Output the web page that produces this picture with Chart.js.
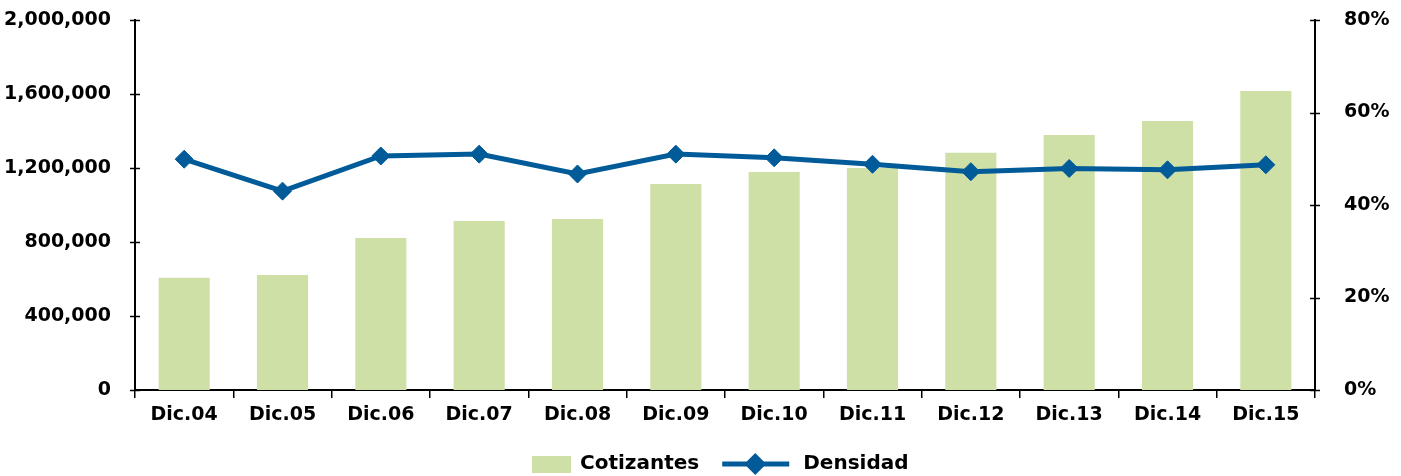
<!DOCTYPE html>
<html>
<head>
<meta charset="utf-8">
<script src="https://cdn.jsdelivr.net/npm/chart.js@4"></script>
<style>
  html, body { margin: 0; padding: 0; background: #fff; }
  #wrap { width: 1401px; height: 476px; }
</style>
</head>
<body>
<div id="wrap"><canvas id="chart" width="1401" height="476"></canvas></div>
<script>
// Cotizantes y densidad
const categorias = ['Dic.04', 'Dic.05', 'Dic.06', 'Dic.07', 'Dic.08', 'Dic.09', 'Dic.10', 'Dic.11', 'Dic.12', 'Dic.13', 'Dic.14', 'Dic.15'];
const cotizantes = [607000, 622000, 822000, 913000, 924000, 1113000, 1178000, 1200000, 1283000, 1378000, 1454000, 1616000];
const densidad = [49.9, 43.0, 50.6, 51.0, 46.7, 51.0, 50.2, 48.8, 47.2, 47.9, 47.6, 48.7];

const FONT = { family: '"DejaVu Sans", sans-serif', size: 19, weight: 'bold' };
const VERDE = '#cfe0a7';
const AZUL = '#005b98';

// Ticks cortos que cruzan los ejes verticales
const ejeTicks = {
    id: 'ejeTicks',
    afterDraw(chart) {
        const ctx = chart.ctx;
        ctx.save();
        ctx.strokeStyle = '#000';
        ctx.lineWidth = 1.5;
        for (const id of ['y', 'y1']) {
            const sc = chart.scales[id];
            const x = id === 'y' ? sc.right : sc.left;
            sc.ticks.forEach((t, i) => {
                const y = Math.round(sc.getPixelForTick(i)) + 0.5;
                ctx.beginPath();
                ctx.moveTo(x - 5, y);
                ctx.lineTo(x + 5, y);
                ctx.stroke();
            });
        }
        ctx.restore();
    }
};

// Leyenda dibujada a mano (caja + linea con rombo)
const leyenda = {
    id: 'leyenda',
    afterDraw(chart) {
        const ctx = chart.ctx;
        ctx.save();
        ctx.font = `${FONT.weight} 20px ${FONT.family}`;
        ctx.textBaseline = 'middle';
        const y = 464;
        const w1 = ctx.measureText('Cotizantes').width;
        let x = 532;

        ctx.fillStyle = VERDE;
        ctx.fillRect(x, y - 8, 39, 17);
        x += 48;
        ctx.fillStyle = '#000';
        ctx.fillText('Cotizantes', x, y);
        x += w1 + 23;

        ctx.strokeStyle = AZUL;
        ctx.lineWidth = 5;
        ctx.beginPath();
        ctx.moveTo(x, y);
        ctx.lineTo(x + 67, y);
        ctx.stroke();
        const cx = x + 33, r = 11;
        ctx.fillStyle = AZUL;
        ctx.beginPath();
        ctx.moveTo(cx, y - r);
        ctx.lineTo(cx + r, y);
        ctx.lineTo(cx, y + r);
        ctx.lineTo(cx - r, y);
        ctx.closePath();
        ctx.fill();
        x += 67 + 14;
        ctx.fillStyle = '#000';
        ctx.fillText('Densidad', x, y);
        ctx.restore();
    }
};

function fijarAncho(ancho) {
    return sc => {
        sc.width = ancho;
        sc.paddingTop = 0;
        sc.paddingBottom = 0;
    };
}

new Chart(document.getElementById('chart'), {
    data: {
        labels: categorias,
        datasets: [
            {
                type: 'line',
                label: 'Densidad',
                data: densidad,
                yAxisID: 'y1',
                borderColor: AZUL,
                backgroundColor: AZUL,
                borderWidth: 5,
                pointStyle: 'rectRot',
                pointRadius: 9,
                pointBorderWidth: 1,
                tension: 0,
                order: 0
            },
            {
                type: 'bar',
                label: 'Cotizantes',
                data: cotizantes,
                yAxisID: 'y',
                backgroundColor: VERDE,
                borderWidth: 0,
                categoryPercentage: 1,
                barPercentage: 0.52,
                order: 1
            }
        ]
    },
    options: {
        responsive: false,
        animation: false,
        layout: { padding: { top: 20, bottom: 46, left: 0, right: 0 } },
        plugins: {
            legend: { display: false },
            tooltip: { enabled: false }
        },
        scales: {
            x: {
                offset: true,
                grid: { offset: true, drawOnChartArea: false, drawTicks: true, tickLength: 8, color: '#000', lineWidth: 1.5 },
                border: { color: '#000', width: 2 },
                ticks: { color: '#000', font: FONT, padding: 6, maxRotation: 0 },
                afterFit(sc) { sc.height = 40; sc.paddingLeft = 0; sc.paddingRight = 0; }
            },
            y: {
                position: 'left',
                min: 0,
                max: 2000000,
                grid: { display: false },
                border: { color: '#000', width: 2 },
                ticks: {
                    stepSize: 400000,
                    color: '#000',
                    font: FONT,
                    padding: 16,
                    callback: v => v.toLocaleString('en-US')
                },
                afterFit: fijarAncho(135)
            },
            y1: {
                position: 'right',
                min: 0,
                max: 80,
                grid: { display: false },
                border: { color: '#000', width: 2 },
                ticks: {
                    stepSize: 20,
                    color: '#000',
                    font: FONT,
                    padding: 21,
                    callback: v => v + '%'
                },
                afterFit: fijarAncho(86)
            }
        }
    },
    plugins: [ejeTicks, leyenda]
});
</script>
</body>
</html>
